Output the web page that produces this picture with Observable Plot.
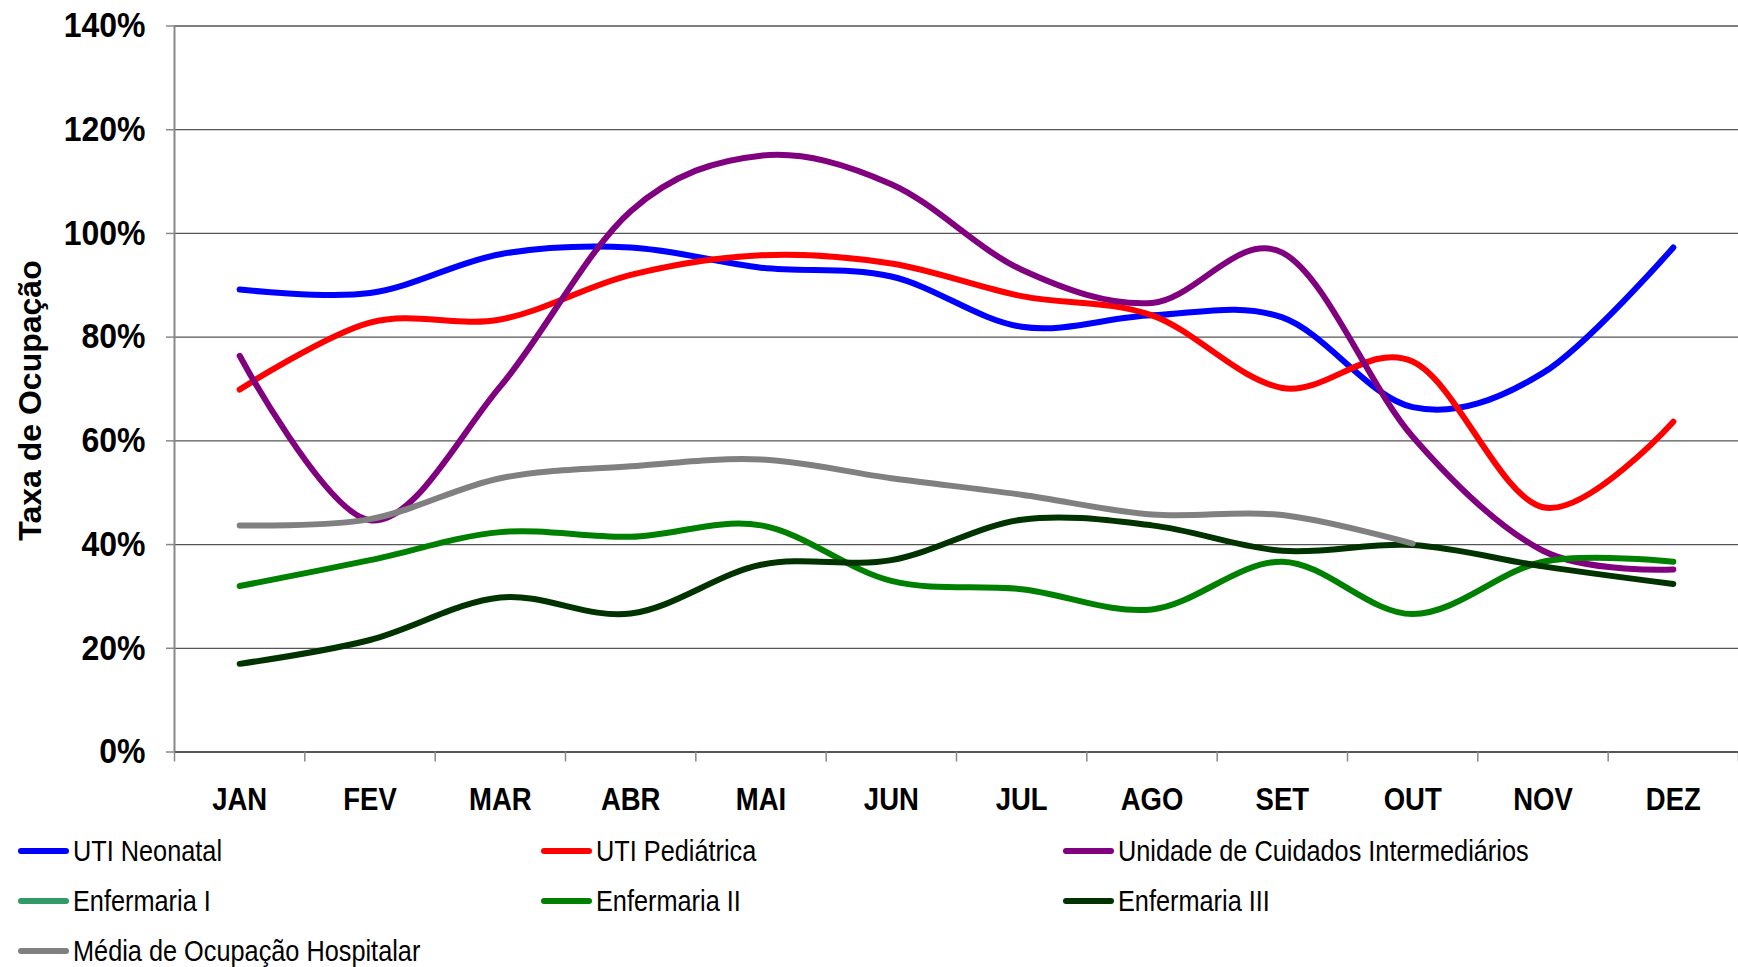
<!DOCTYPE html>
<html>
<head>
<meta charset="utf-8">
<script src="https://cdn.jsdelivr.net/npm/d3@7"></script>
<script src="https://cdn.jsdelivr.net/npm/@observablehq/plot@0.6"></script>
<style>
  html, body { margin: 0; padding: 0; background: #fff; }
  body { width: 1738px; height: 967px; overflow: hidden; font-family: "Liberation Sans", Arial, sans-serif; }
  svg { display: block; }
  #legend { position: relative; width: 1738px; height: 145px; }
  .item { position: absolute; display: flex; align-items: center; height: 40px; }
  .sw { width: 51px; height: 5.5px; border-radius: 3px; margin-right: 4px; }
  .lt { font-size: 25.3px; color: #000; display: inline-block; transform: scaleY(1.15); white-space: nowrap; }
</style>
</head>
<body>
<div id="chart"></div>
<div id="legend"></div>
<script>
// ---- Data (occupancy rate, %) ----
const months = ["JAN", "FEV", "MAR", "ABR", "MAI", "JUN", "JUL", "AGO", "SET", "OUT", "NOV", "DEZ"];
const utiNeonatal     = [89.2, 88.5, 96.0, 97.3, 93.4, 91.7, 82.0, 84.2, 83.8, 66.5, 73.1, 97.3];
const utiPediatrica   = [69.9, 82.8, 83.4, 92.0, 95.8, 94.2, 87.9, 84.2, 70.2, 75.3, 47.2, 63.7];
const cuidadosInterm  = [76.4, 44.7, 70.5, 104.3, 115.0, 109.5, 93.0, 86.6, 96.3, 60.8, 38.8, 35.2];
const enfermariaI     = [];
const enfermariaII    = [32.0, 37.0, 42.4, 41.5, 43.7, 33.0, 31.4, 27.5, 36.7, 26.6, 36.7, 36.7];
const enfermariaIII   = [17.0, 21.6, 29.8, 26.7, 36.1, 37.0, 44.8, 43.7, 38.8, 39.9, 35.8, 32.4];
const mediaHospitalar = [43.7, 44.9, 52.8, 55.1, 56.4, 52.8, 49.6, 45.8, 45.7, 40.2, null, null];

const seriesNames = ["UTI Neonatal", "UTI Pediátrica", "Unidade de Cuidados Intermediários",
                     "Enfermaria I", "Enfermaria II", "Enfermaria III", "Média de Ocupação Hospitalar"];
const seriesColors = ["#0000FF", "#FF0000", "#800080", "#339966", "#008000", "#003300", "#808080"];
const seriesValues = [utiNeonatal, utiPediatrica, cuidadosInterm, enfermariaI, enfermariaII, enfermariaIII, mediaHospitalar];
const yTicks = [0, 20, 40, 60, 80, 100, 120, 140];
const yTitle = "Taxa de Ocupação";

// ---- Build table ----
const rows = [];
seriesNames.forEach((name, s) => {
  seriesValues[s].forEach((v, i) => {
    if (v != null) rows.push({ series: name, month: i, value: v });
  });
});

const W = 1738, H = 822;
const top0 = 25.5, bottom0 = 751.5;

const chart = Plot.plot({
  width: W,
  height: H,
  marginLeft: 174,
  marginRight: 0,
  marginTop: top0,
  marginBottom: H - bottom0,
  x: { type: "linear", domain: [-0.5, months.length - 0.5], label: null },
  y: { domain: [0, 140], label: null },
  color: { domain: seriesNames, range: seriesColors },
  style: { fontFamily: "'Liberation Sans', Arial, sans-serif", background: "white", color: "black" },
  marks: [
    Plot.ruleY(yTicks.filter(d => d > 0), { stroke: "#555", strokeWidth: 1.3 }),
    Plot.ruleY([0], { stroke: "#555", strokeWidth: 2 }),
    Plot.ruleX([-0.5], { stroke: "#888", strokeWidth: 2 }),
    Plot.axisY({
      ticks: yTicks, tickSize: 8, tickPadding: 21, tickFormat: d => d + "%",
      fontSize: 32, fontWeight: "bold", stroke: "#888", strokeWidth: 1.5, label: null
    }),
    Plot.axisX({
      ticks: d3.range(-0.5, months.length, 1), tickSize: 10, tickFormat: () => "",
      stroke: "#888", strokeWidth: 1.5, label: null
    }),
    Plot.axisX({
      ticks: d3.range(months.length), tickSize: 0, tickPadding: 35.5,
      tickFormat: i => months[i], fontSize: 27.5, fontWeight: "bold", label: null
    }),
    Plot.text([yTitle], {
      text: d => d, frameAnchor: "left", dx: -144, dy: 11.5, rotate: -90,
      fontSize: 32, fontWeight: "bold", textAnchor: "middle", lineAnchor: "middle", fill: "black"
    }),
    Plot.line(rows, {
      x: "month", y: "value", z: "series", stroke: "series",
      strokeWidth: 6, curve: "cardinal", strokeLinecap: "round", strokeLinejoin: "round"
    })
  ]
});

// vertical stretch of tick labels, as in the reference
d3.select(chart).selectAll('g[aria-label="x-axis tick label"] text')
  .attr("transform", function () { return (this.getAttribute("transform") || "") + " scale(1,1.14)"; });
d3.select(chart).selectAll('g[aria-label="y-axis tick label"] text')
  .attr("transform", function () { return (this.getAttribute("transform") || "") + " scale(1,1.1)"; });

document.getElementById("chart").appendChild(chart);

// ---- Legend (3 columns) ----
const legend = document.getElementById("legend");
const colX = [18, 541, 1063];
const rowY = [29, 79, 129];
seriesNames.forEach((name, i) => {
  const item = document.createElement("div");
  item.className = "item";
  item.style.left = colX[i % 3] + "px";
  item.style.top = (rowY[Math.floor(i / 3)] - 20) + "px";
  const sw = document.createElement("div");
  sw.className = "sw";
  sw.style.background = seriesColors[i];
  const lt = document.createElement("span");
  lt.className = "lt";
  lt.textContent = name;
  item.appendChild(sw);
  item.appendChild(lt);
  legend.appendChild(item);
});
</script>
</body>
</html>
